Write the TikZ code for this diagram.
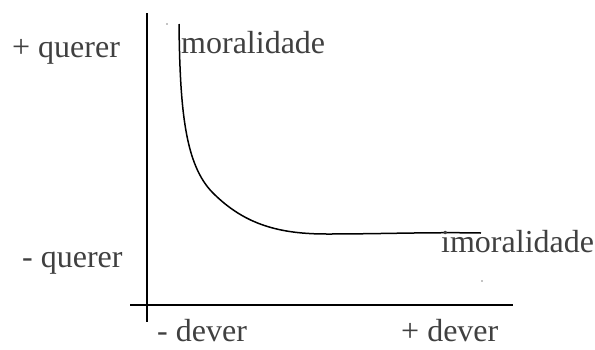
\documentclass[tikz,border=0pt]{standalone}
\usepackage{fontspec}
\setmainfont{Liberation Serif}
\definecolor{txt}{HTML}{404040}
\begin{document}
\begin{tikzpicture}[x=1pt,y=-1pt,
  lab/.style={anchor=base west,inner sep=0pt,text=txt,font=\fontsize{32}{36}\selectfont},
  axis/.style={line width=1.6pt,black},
  crv/.style={line width=1.5pt,black}]
\useasboundingbox (0,0) rectangle (595,349);
\coordinate (vt) at (147,13);
\coordinate (vb) at (147,322);
\coordinate (hl) at (130,305);
\coordinate (hr) at (513,305);
\draw[axis] (vt) -- (vb);
\draw[axis] (hl) -- (hr);
\coordinate (c0) at (179,24);
\coordinate (c1) at (213,193);
\coordinate (c2) at (327,234);
\coordinate (c3) at (481,233);
\draw[crv] (c0) .. controls (180,110) and (185,165) .. (c1)
  .. controls (245,225) and (280,234) .. (c2)
  .. controls (380,234) and (430,232) .. (c3);
\node[lab] (pq) at (12,57) {+ querer};
\node[lab] (mq) at (22,267) {- querer};
\node[lab] (mor) at (181,53) {moralidade};
\node[lab] (imor) at (441,252) {imoralidade};
\node[lab] (md) at (157,341) {- dever};
\node[lab] (pd) at (401,341) {+ dever};
\fill[black] (167,24) circle (0.6pt);
\fill[black] (482,281) circle (0.6pt);
\end{tikzpicture}
\end{document}
